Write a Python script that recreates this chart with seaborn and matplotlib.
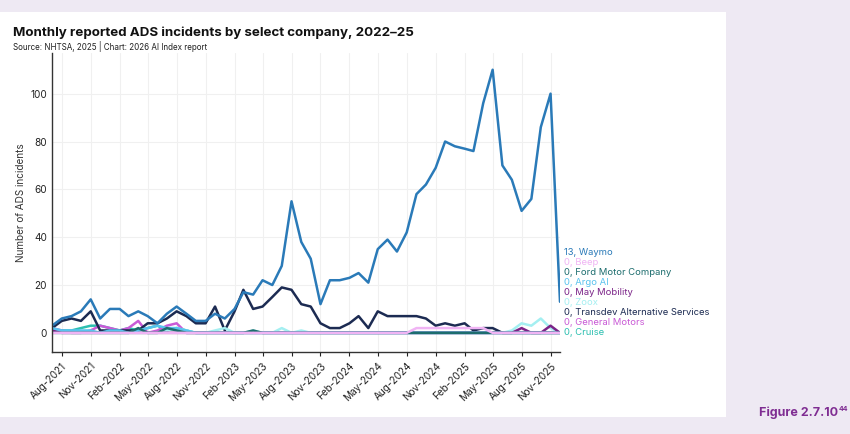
import pandas as pd
import seaborn as sns
from matplotlib import pyplot as plt
from matplotlib.patches import Rectangle
import matplotlib.dates as mdates

# monthly counts, Jul-2021 .. Dec-2025
months = pd.date_range("2021-07-01", "2025-12-01", freq="MS")

waymo = [3, 6, 7, 9, 14, 6,
         10, 10, 7, 9, 7, 4, 8, 11, 8, 5, 5, 8,
         6, 10, 17, 16, 22, 20, 28, 55, 38, 31, 12, 22,
         22, 23, 25, 21, 35, 39, 34, 42, 58, 62, 69, 80,
         78, 77, 76, 96, 110, 70, 64, 51, 56, 86, 100, 13]
transdev = [2, 5, 6, 5, 9, 1,
            1, 1, 1, 1, 4, 4, 6, 9, 7, 4, 4, 11,
            1, 9, 18, 10, 11, 15, 19, 18, 12, 11, 4, 2,
            2, 4, 7, 2, 9, 7, 7, 7, 7, 6, 3, 4,
            3, 4, 1, 2, 2, 0, 0, 0, 0, 0, 0, 0]
cruise = [1, 1, 1, 2, 3, 3,
          2, 1, 2, 1, 2, 3, 1, 2, 1, 0, 0, 0] + [0] * 36
gm = [2, 1, 0, 0, 1, 3,
      2, 1, 2, 5, 0, 1, 3, 4, 0, 0, 0, 0] + [0] * 36
argo = [2, 1, 1, 1, 1, 0,
        1, 1, 0, 1, 2, 3, 2, 2, 1, 0, 0, 0] + [0] * 36
ford = [0, 0, 0, 0, 0, 0,
        0, 0, 0, 2, 0, 0, 2, 1, 0, 0, 0, 0,
        0, 0, 0, 1] + [0] * 32
zoox = ([0] * 12
        + [1, 2, 1, 0, 0, 1, 2, 0, 0, 1, 0, 0, 2, 0, 1, 0, 0, 0]
        + [0] * 17
        + [0, 1, 4, 3, 6, 2, 0])
may = [1] + [0] * 45 + [0, 0, 0, 2, 0, 0, 3, 0]
beep = [0] * 38 + [2, 2, 2, 2, 2, 2, 2, 2] + [0] * 8

series = {
    "Waymo": waymo,
    "Beep": beep,
    "Ford Motor Company": ford,
    "Argo AI": argo,
    "May Mobility": may,
    "Zoox": zoox,
    "Transdev Alternative Services": transdev,
    "General Motors": gm,
    "Cruise": cruise,
}
colors = {
    "Waymo": "#2a7ab8",
    "Beep": "#f0b4f4",
    "Ford Motor Company": "#1d6d6e",
    "Argo AI": "#58c3ee",
    "May Mobility": "#7b2388",
    "Zoox": "#a4eff1",
    "Transdev Alternative Services": "#1c2b52",
    "General Motors": "#c95ad6",
    "Cruise": "#2cbfb0",
}
label_order = list(series.keys())

rows = []
for name, vals in series.items():
    for d, v in zip(months, vals):
        rows.append({"month": d, "company": name, "incidents": v})
df = pd.DataFrame(rows)

sns.set_style("whitegrid")
plt.rcParams["font.family"] = ["Inter", "DejaVu Sans"]

fig = plt.figure(figsize=(8.5, 4.34), dpi=100)
fig.patch.set_facecolor("#eee9f3")
fig.patches.append(Rectangle((0, 17 / 434), 726 / 850, 405 / 434, transform=fig.transFigure,
                             facecolor="white", edgecolor="none", zorder=-10))

ax = fig.add_axes([52 / 850, 82 / 434, 508 / 850, 299 / 434])
ax.set_facecolor("white")

sns.lineplot(data=df, x="month", y="incidents", hue="company",
             hue_order=label_order[::-1], palette=colors, linewidth=1.8,
             legend=False, ax=ax)

ax.set_xlim(months[0], months[-1])
ax.set_ylim(-8, 117)
ax.set_yticks([0, 20, 40, 60, 80, 100])
ax.xaxis.set_major_locator(mdates.MonthLocator(bymonth=[2, 5, 8, 11]))
ax.xaxis.set_major_formatter(mdates.DateFormatter("%b-%Y"))
plt.setp(ax.get_xticklabels(), rotation=45, ha="right", rotation_mode="anchor")
ax.tick_params(axis="x", labelsize=7.2, colors="#222222", length=3, width=0.8, bottom=True)
ax.tick_params(axis="y", labelsize=7.2, colors="#222222", length=0)
ax.grid(color="#f0f0f0", linewidth=0.8)

for side in ["top", "right"]:
    ax.spines[side].set_visible(False)
for side in ["left", "bottom"]:
    ax.spines[side].set_color("#333333")
    ax.spines[side].set_linewidth(1.0)

ax.set_xlabel("")
ax.set_ylabel("Number of ADS incidents", fontsize=7.2, color="#333333", labelpad=3)

# stacked end labels
step = 4.18
end = months[-1] + pd.Timedelta(days=14)
for k, name in enumerate(label_order[::-1]):
    last = series[name][-1]
    ax.text(end, k * step, f"{last}, {name}", color=colors[name], fontsize=6.8,
            va="center", ha="left", clip_on=False)

fig.text(13 / 850, 1 - 33 / 434, "Monthly reported ADS incidents by select company, 2022\u201325",
         fontsize=9.6, fontweight="bold", color="#111111", va="center", ha="left")
fig.text(13 / 850, 1 - 46 / 434, "Source: NHTSA, 2025 | Chart: 2026 AI Index report",
         fontsize=5.8, color="#222222", va="center", ha="left")

fig.text(838 / 850, 1 - 413 / 434, "Figure 2.7.10", fontsize=9, fontweight="bold",
         color="#7f2d92", va="center", ha="right")
fig.text(839 / 850, 1 - 409 / 434, "44", fontsize=5, fontweight="bold",
         color="#7f2d92", va="center", ha="left")

plt.savefig("out.png", dpi=100, facecolor=fig.get_facecolor())
